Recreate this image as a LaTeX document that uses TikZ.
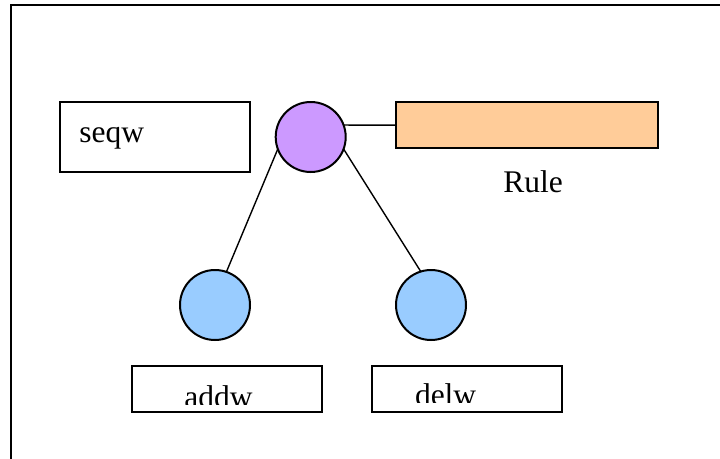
\documentclass[tikz,border=0pt]{standalone}
\usepackage{fontspec}
\setmainfont{Liberation Serif}
\definecolor{purplefill}{HTML}{CC99FF}
\definecolor{orangefill}{HTML}{FFCC99}
\definecolor{bluefill}{HTML}{99CCFF}
\begin{document}
\begin{tikzpicture}[x=1pt,y=-1pt,
  box/.style={draw=black, line width=2pt, rectangle, inner sep=0pt, outer sep=0pt},
  ball/.style={draw=black, line width=2pt, circle, inner sep=0pt, outer sep=0pt, minimum size=70pt},
  lbl/.style={inner sep=0pt, outer sep=0pt, font=\fontsize{31.5}{36}\selectfont},
  conn/.style={draw=black, line width=1.4pt}]
\useasboundingbox (0,0) rectangle (720,458);
\fill[white] (0,0) rectangle (720,458);
% frame (only top and left edges are within the picture)
\coordinate (fbl) at (11,460);
\coordinate (ftl) at (11,5);
\coordinate (ftr) at (722,5);
\draw[line width=2pt] (fbl) -- (ftl) -- (ftr);
% nodes
\node[box, minimum width=190.3pt, minimum height=70pt] (seqw) at (154.85,137) {};
\node[lbl, anchor=base west] (seqwtext) at (79.3,142.7) {seqw};
\node[ball, fill=purplefill] (top) at (310.7,137) {};
\node[box, fill=orangefill, minimum width=262.6pt, minimum height=46.3pt] (rule) at (527,125.2) {};
\node[lbl, anchor=base] (ruletext) at (533,192.7) {Rule};
\node[ball, fill=bluefill] (left) at (215,305) {};
\node[ball, fill=bluefill] (right) at (431,305) {};
\node[box, minimum width=190.6pt, minimum height=46.3pt] (addw) at (227,389.2) {};
\node[box, minimum width=190.6pt, minimum height=46.3pt] (delw) at (467,389.2) {};
\begin{scope}
  \clip (130,366) rectangle (324,404.3);
  \node[lbl, anchor=base west] (addwtext) at (184.3,407.5) {addw};
\end{scope}
\begin{scope}
  \clip (370,366) rectangle (564,402.8);
  \node[lbl, anchor=base west] (delwtext) at (415,405.5) {delw};
\end{scope}
% connectors
\draw[conn] (top.20) -- (rule.west);
\draw[conn] (top.200) -- (left.71);
\draw[conn] (top.340) -- (right.107);
\end{tikzpicture}
\end{document}
